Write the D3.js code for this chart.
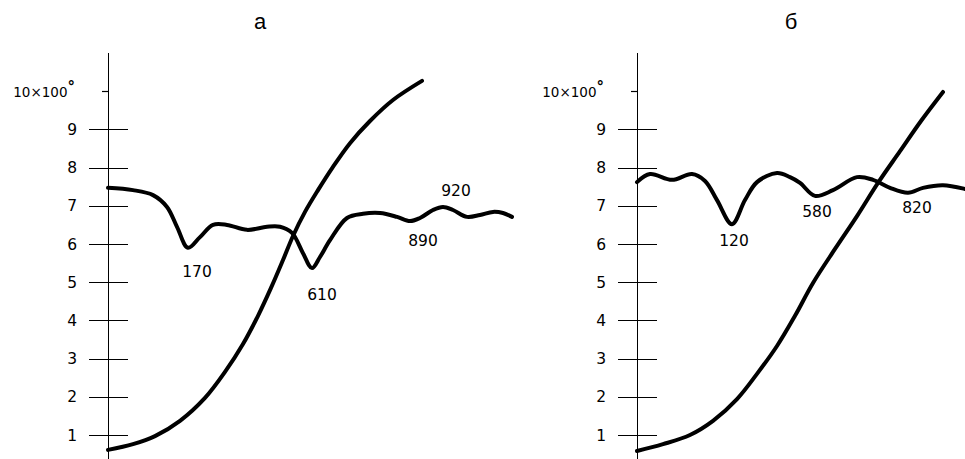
<!DOCTYPE html>
<html>
<head>
<meta charset="utf-8">
<script src="https://cdn.jsdelivr.net/npm/d3@7"></script>
<style>
  html, body { margin: 0; padding: 0; background: #fff; }
  svg { display: block; }
  .tick-label { font-family: "DejaVu Sans", sans-serif; font-size: 15.5px; fill: #000; }
  .mark-label { font-family: "DejaVu Sans", sans-serif; font-size: 15.5px; fill: #000; }
  .unit-label { font-family: "DejaVu Sans", sans-serif; font-size: 13.5px; fill: #000; }
  .panel-title { font-family: "Liberation Sans", Arial, sans-serif; font-size: 22px; fill: #000; }
</style>
</head>
<body>
<svg id="chart" width="965" height="459"></svg>
<script>
// Panel titles
const panelTitles = ["а", "б"];

// Y axis tick values (top tick carries the unit label instead of a number)
const yTicks = [1, 2, 3, 4, 5, 6, 7, 8, 9, 10];
const topTickLabel = "10×100";

// Panel а: rising curve
const aRiseX = [0, 6.25, 11.75, 18, 24.25, 29.25, 33.75, 37.5, 40.75, 43.75, 46.25, 49.25, 52.5, 56.25, 60.5, 65.5, 71.25, 78.5];
const aRiseY = [0.61, 0.76, 0.97, 1.37, 1.97, 2.65, 3.38, 4.12, 4.85, 5.58, 6.21, 6.84, 7.41, 8.02, 8.64, 9.22, 9.77, 10.27];

// Panel а: oscillating curve
const aWaveX = [0, 6.25, 11.25, 14.75, 17.25, 20, 23, 26.25, 29.75, 34.75, 39.75, 43, 46, 48.75, 51, 53, 55.5, 59.75, 63.75, 68, 72.25, 75.5, 78, 81.25, 83.75, 86.25, 89.75, 93, 96.25, 98.75, 101];
const aWaveY = [7.47, 7.41, 7.28, 6.97, 6.45, 5.90, 6.18, 6.50, 6.50, 6.37, 6.45, 6.45, 6.29, 5.76, 5.37, 5.66, 6.10, 6.68, 6.79, 6.81, 6.71, 6.60, 6.68, 6.89, 6.97, 6.89, 6.71, 6.76, 6.84, 6.81, 6.71];

// Panel а: annotations
const aNoteText = ["170", "610", "890", "920"];
const aNoteX = [22.25, 53.5, 78.75, 87];
const aNoteY = [5.27, 4.69, 6.10, 7.39];

// Panel б: rising curve
const bRiseX = [0, 6.5, 13.25, 19, 25, 30, 35, 39.5, 44, 49.5, 55, 60.25, 65.75, 71, 76.5];
const bRiseY = [0.58, 0.76, 1.00, 1.37, 1.94, 2.60, 3.33, 4.12, 4.98, 5.87, 6.73, 7.60, 8.43, 9.22, 9.98];

// Panel б: oscillating curve
const bWaveX = [0, 3.25, 8.75, 13.75, 17, 20, 23.75, 27, 30, 35, 38.25, 40.75, 44.5, 49, 55, 59, 63.25, 67.75, 71.5, 76.5, 82, 84.5];
const bWaveY = [7.62, 7.83, 7.68, 7.83, 7.65, 7.15, 6.52, 7.15, 7.62, 7.86, 7.75, 7.60, 7.26, 7.41, 7.75, 7.68, 7.47, 7.34, 7.47, 7.54, 7.44, 7.36];

// Panel б: annotations
const bNoteText = ["120", "580", "820"];
const bNoteX = [24.25, 45, 70];
const bNoteY = [6.10, 6.84, 6.97];

const svg = d3.select("#chart");

const y = d3.scaleLinear().domain([1, 10]).range([435, 91.2]);

const panels = [
  { title: panelTitles[0], axisX: 108, titleX: 260,
    rise: aRiseX.map((d, i) => [d, aRiseY[i]]),
    wave: aWaveX.map((d, i) => [d, aWaveY[i]]),
    notes: aNoteText.map((t, i) => ({ t, x: aNoteX[i], y: aNoteY[i] })) },
  { title: panelTitles[1], axisX: 637, titleX: 791,
    rise: bRiseX.map((d, i) => [d, bRiseY[i]]),
    wave: bWaveX.map((d, i) => [d, bWaveY[i]]),
    notes: bNoteText.map((t, i) => ({ t, x: bNoteX[i], y: bNoteY[i] })) }
];

panels.forEach(p => {
  const x = d3.scaleLinear().domain([0, 100]).range([p.axisX, p.axisX + 400]);
  const g = svg.append("g");

  // title
  g.append("text").attr("class", "panel-title")
    .attr("x", p.titleX).attr("y", 29)
    .attr("text-anchor", "middle").text(p.title);

  // vertical axis line
  g.append("line")
    .attr("x1", p.axisX + 0.5).attr("x2", p.axisX + 0.5)
    .attr("y1", 53).attr("y2", 459)
    .attr("stroke", "#000").attr("stroke-width", 1);

  // ticks crossing the axis
  g.selectAll("line.tk").data(yTicks).join("line")
    .attr("class", "tk")
    .attr("x1", d => d === 10 ? p.axisX - 6 : p.axisX - 19)
    .attr("x2", d => d === 10 ? p.axisX : p.axisX + 20)
    .attr("y1", d => Math.round(y(d)) + 0.5)
    .attr("y2", d => Math.round(y(d)) + 0.5)
    .attr("stroke", "#000").attr("stroke-width", 1.2);

  // numeric tick labels
  g.selectAll("text.tl").data(yTicks.filter(d => d !== 10)).join("text")
    .attr("class", "tick-label tl")
    .attr("x", p.axisX - 31)
    .attr("y", d => y(d))
    .attr("dy", "0.36em")
    .attr("text-anchor", "end")
    .text(d => d);

  // unit label at the top tick
  const u = g.append("text").attr("class", "unit-label")
    .attr("x", p.axisX - 33).attr("y", y(10)).attr("dy", "0.42em")
    .attr("text-anchor", "end");
  u.append("tspan").text(topTickLabel);
  u.append("tspan").attr("font-weight", "bold").attr("dy", "-0.3em").attr("font-size", "15px").text("°");

  const line = d3.line()
    .x(d => x(d[0])).y(d => y(d[1]))
    .curve(d3.curveCatmullRom.alpha(0.5));

  [p.rise, p.wave].forEach(series => {
    g.append("path").datum(series)
      .attr("d", line)
      .attr("fill", "none")
      .attr("stroke", "#000")
      .attr("stroke-width", 4)
      .attr("stroke-linecap", "round")
      .attr("stroke-linejoin", "round");
  });

  g.selectAll("text.note").data(p.notes).join("text")
    .attr("class", "mark-label note")
    .attr("x", d => x(d.x)).attr("y", d => y(d.y))
    .attr("dy", "0.36em")
    .attr("text-anchor", "middle")
    .text(d => d.t);
});
</script>
</body>
</html>
